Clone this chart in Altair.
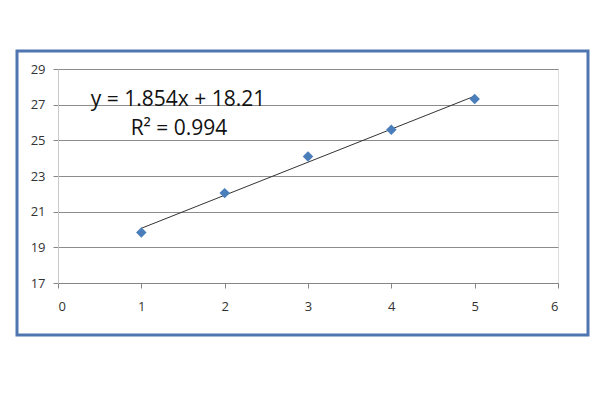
import altair as alt
import pandas as pd

x_vals = [1, 2, 3, 4, 5]
y_vals = [19.83, 22.04, 24.09, 25.59, 27.32]
eq_lines = ["y = 1.854x + 18.21", "R² = 0.994"]
x_ticks = [0, 1, 2, 3, 4, 5, 6]
y_ticks = [17, 19, 21, 23, 25, 27, 29]

df = pd.DataFrame({"x": x_vals, "y": y_vals})

FONT = "Open Sans"

xs = alt.Scale(domain=[0, 6], nice=False, zero=False)
ys = alt.Scale(domain=[17, 29], nice=False, zero=False)

x_axis = alt.Axis(
    values=x_ticks, format="d", labelOverlap=False, title=None, grid=False,
    domainColor="#868686", tickColor="#868686", tickSize=5,
    labelPadding=12, labelFontSize=13, labelColor="#333333", labelFont=FONT)
y_axis = alt.Axis(
    values=y_ticks, tickCount=7, format="d", labelOverlap=False, title=None,
    grid=True, gridColor="#8c8c8c", domainColor="#c8c8c8",
    tickColor="#868686", tickSize=5, labelPadding=8, labelFontSize=13,
    labelColor="#333333", labelFont=FONT)

base = alt.Chart(df)

border = alt.Chart(pd.DataFrame({"k": [0]})).mark_rect(
    fill=None, stroke="#4f76b0", strokeWidth=3, clip=False
).encode(
    x=alt.value(-41), x2=alt.value(530), y=alt.value(-18), y2=alt.value(266)
)

points = base.mark_point(
    shape="diamond", filled=True, color="#4a7ebb", size=110, opacity=1
).encode(
    x=alt.X("x:Q", scale=xs, axis=x_axis),
    y=alt.Y("y:Q", scale=ys, axis=y_axis),
)

trend = base.transform_regression("x", "y").mark_line(
    color="#333333", strokeWidth=1
).encode(
    x=alt.X("x:Q", scale=xs, axis=x_axis),
    y=alt.Y("y:Q", scale=ys, axis=y_axis),
)

eq1 = alt.Chart(pd.DataFrame({"t": [eq_lines[0]]})).mark_text(
    font=FONT, fontSize=21, color="#111111", align="center", baseline="middle"
).encode(text="t:N", x=alt.value(120), y=alt.value(31))

eq2 = alt.Chart(pd.DataFrame({"t": [eq_lines[1]]})).mark_text(
    font=FONT, fontSize=21, color="#111111", align="center", baseline="middle"
).encode(text="t:N", x=alt.value(121), y=alt.value(60))

chart = alt.layer(border, trend, points, eq1, eq2).properties(
    width=500, height=214,
    autosize=alt.AutoSizeParams(type="none"),
    padding={"left": 50, "top": 61, "right": 41, "bottom": 120},
).configure_view(stroke=None).configure(background="white")

chart.save("out.html", embed_options={"renderer": "svg", "actions": False})
